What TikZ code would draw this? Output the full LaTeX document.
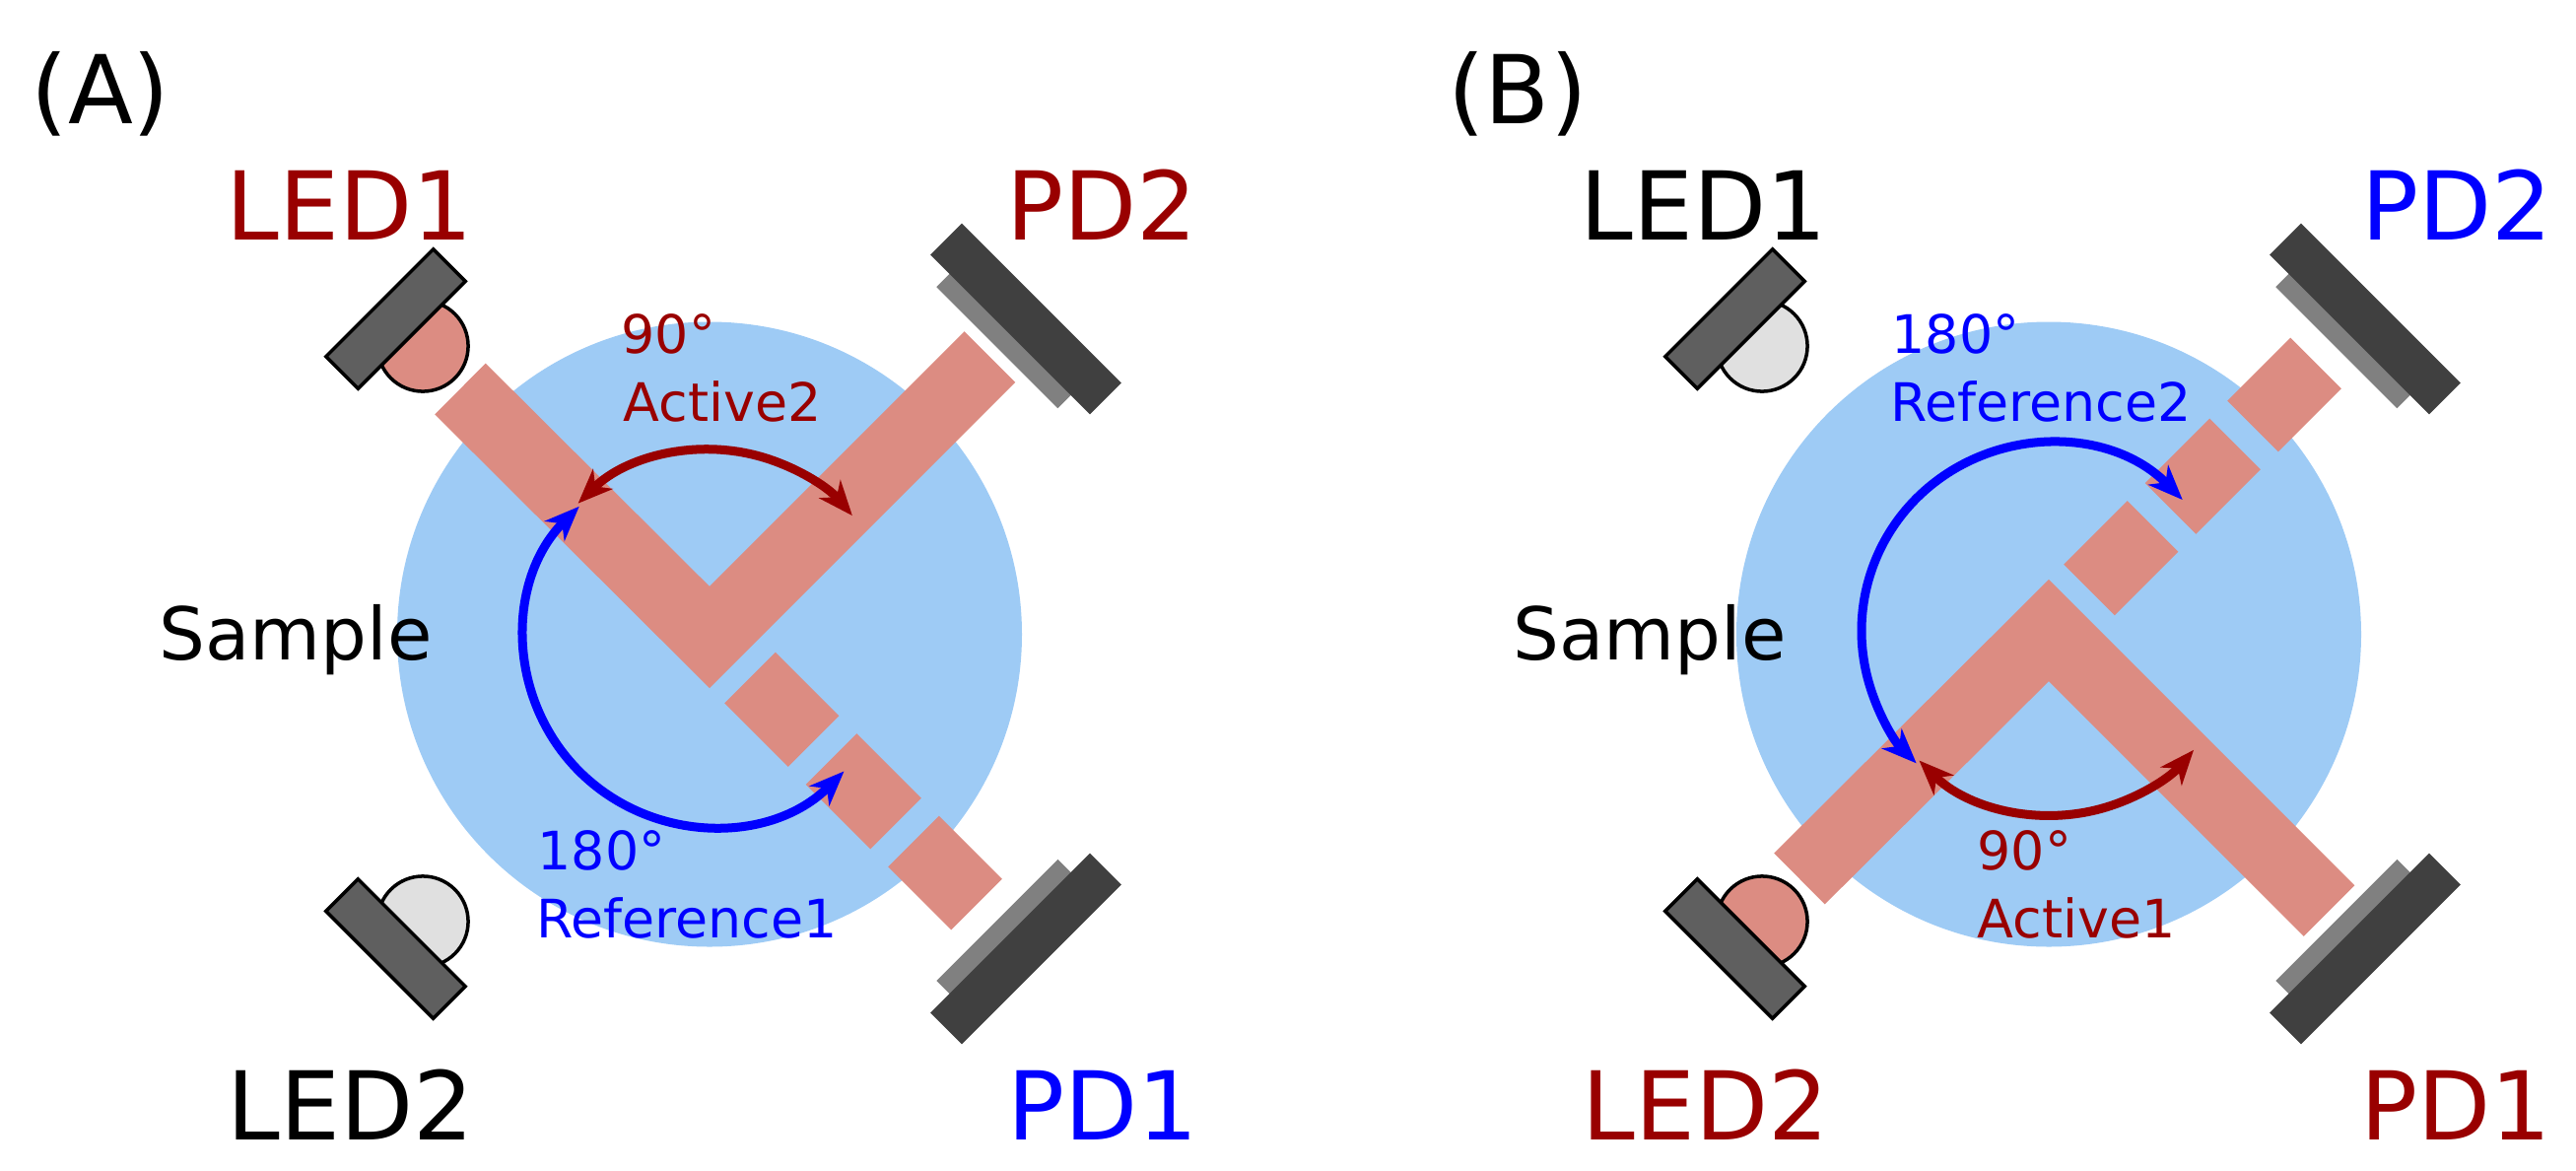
\documentclass[tikz,border=0pt]{standalone}
\usepackage{fontspec}
\setmainfont{DejaVu Sans}
\usetikzlibrary{arrows.meta}
\definecolor{sampleblue}{HTML}{9ECBF5}
\definecolor{beamred}{HTML}{DC8C82}
\definecolor{ledgrey}{HTML}{E0E0E0}
\definecolor{barA}{HTML}{5F5F5F}
\definecolor{pddark}{HTML}{404040}
\definecolor{pdgrey}{HTML}{808080}
\definecolor{darkred}{HTML}{990000}
\definecolor{pureblue}{HTML}{0000FF}
\tikzset{
  sample/.style={fill=sampleblue,draw=none},
  beam/.style={draw=beamred,line width=0.73cm,line join=miter,line cap=butt},
  arcline/.style={line width=0.09cm,{Stealth[length=10pt,width=8pt,inset=3pt]}-{Stealth[length=10pt,width=8pt,inset=3pt]}},
  big/.style={inner sep=0pt,anchor=base,font=\fontsize{27.4}{30}\selectfont},
  midtext/.style={inner sep=0pt,anchor=base,font=\fontsize{21}{24}\selectfont},
  small/.style={inner sep=0pt,anchor=base west,font=\fontsize{15.3}{18}\selectfont},
  pics/led/.style={code={
    \draw[fill=#1,line width=0.035cm] (0,39) circle[radius=46];
    \draw[fill=barA,line width=0.035cm] (-77,-23) rectangle (77,23);
  }},
  pics/pd/.style={code={
    \fill[pdgrey] (-87,22) rectangle (87,41.2);
    \fill[pddark] (-114.5,-22.5) rectangle (114.5,22.5);
  }}
}
\begin{document}
\begin{tikzpicture}[x=0.01cm,y=0.01cm]
\useasboundingbox (0,0) rectangle (2614,-1187);
% ---- Panel A ----
\fill[sample] (720,-643.5) circle[radius=317];
\draw[beam] (467,-394.5) -- (720,-646.5) -- (1004.5,-362);
\draw[beam] (761,-687.5) -- (825.5,-752);
\draw[beam] (843.5,-770) -- (909,-835.5);
\draw[beam] (927,-853.5) -- (991,-917.5);
\pic[rotate=225] (ledAa) at (401.5,-323.5) {led=beamred};
\pic[rotate=-45] (ledAb) at (401.5,-962.5) {led=ledgrey};
\pic[rotate=135] (pdAb) at (1041,-323.5) {pd};
\pic[rotate=45] (pdAa) at (1041,-962.5) {pd};
\coordinate (arcA) at (720,-646);
\draw[arcline,darkred] (arcA) ++(134.6:190) arc[start angle=134.6,end angle=40.3,radius=190];
\draw[arcline,pureblue] (arcA) ++(135:187) arc[start angle=135,end angle=315,radius=190];
\node[big,darkred] (tLEDaa) at (355,-243) {LED1};
\node[big,darkred] (tPDab) at (1118,-243) {PD2};
\node[big] (tLEDab) at (356,-1156) {LED2};
\node[big,pureblue] (tPDaa) at (1119,-1156) {PD1};
\node[big] (tA) at (102,-125) {(A)};
\node[midtext] (tSa) at (300,-669) {Sample};
\node[small,darkred] (t90a) at (630,-358) {90°};
\node[small,darkred] (tAct2) at (632,-427) {Active2};
\node[small,pureblue] (t180a) at (545,-882) {180°};
\node[small,pureblue] (tRef1) at (544,-951) {Reference1};
% ---- Panel B ----
\fill[sample] (2079,-643.5) circle[radius=317];
\draw[beam] (1826,-891.5) -- (2079,-639.5) -- (2363.5,-924);
\draw[beam] (2120,-598.5) -- (2184.5,-534);
\draw[beam] (2202.5,-516) -- (2268,-450.5);
\draw[beam] (2286,-432.5) -- (2350,-368.5);
\pic[rotate=225] (ledBa) at (1760.5,-323.5) {led=ledgrey};
\pic[rotate=-45] (ledBb) at (1760.5,-962.5) {led=beamred};
\pic[rotate=135] (pdBb) at (2400,-323.5) {pd};
\pic[rotate=45] (pdBa) at (2400,-962.5) {pd};
\coordinate (arcB) at (2079,-640);
\draw[arcline,darkred] (arcB) ++(225:186) arc[start angle=225,end angle=319.4,radius=190];
\draw[arcline,pureblue] (arcB) ++(44.4:190) arc[start angle=44.4,end angle=225,radius=190];
\node[big] (tLEDba) at (1729,-243) {LED1};
\node[big,pureblue] (tPDbb) at (2493,-243) {PD2};
\node[big,darkred] (tLEDbb) at (1731,-1156) {LED2};
\node[big,darkred] (tPDba) at (2492,-1156) {PD1};
\node[big] (tB) at (1540,-125) {(B)};
\node[midtext] (tSb) at (1674,-669) {Sample};
\node[small,pureblue] (t180b) at (1919,-358) {180°};
\node[small,pureblue] (tRef2) at (1918,-427) {Reference2};
\node[small,darkred] (t90b) at (2006,-882) {90°};
\node[small,darkred] (tAct1) at (2006,-951) {Active1};
\end{tikzpicture}
\end{document}
